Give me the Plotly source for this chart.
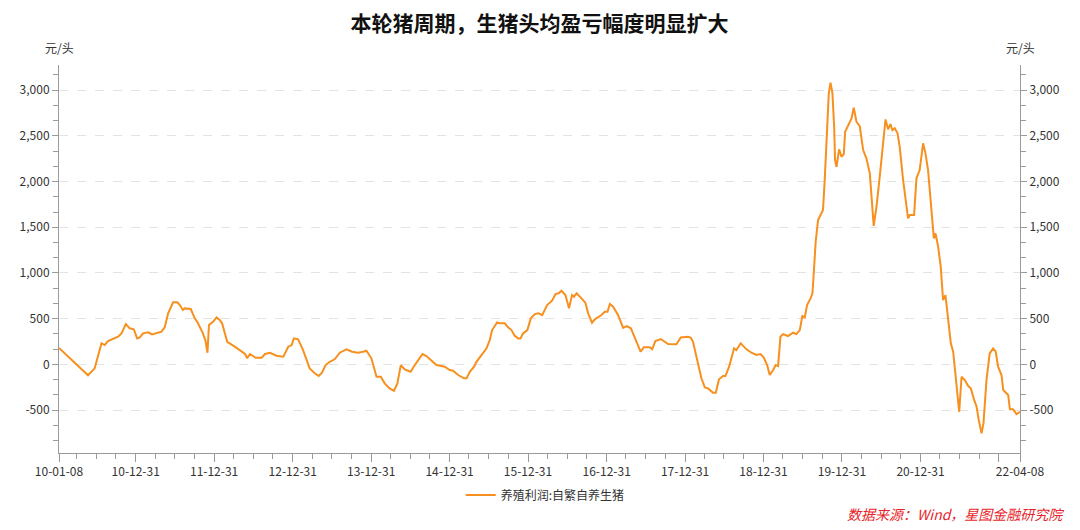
import plotly.graph_objects as go

# ---- data ----
dates = [
    "2010-01-08", "2010-05-23", "2010-06-23", "2010-07-25", "2010-08-09", "2010-08-24", "2010-10-10", "2010-10-26",
    "2010-11-15", "2010-12-03", "2010-12-22",
    "2011-01-07", "2011-01-19", "2011-02-03", "2011-02-27", "2011-03-17", "2011-04-30", "2011-05-15", "2011-05-31",
    "2011-06-23", "2011-07-13", "2011-07-24", "2011-08-08", "2011-08-16", "2011-09-13", "2011-10-02", "2011-10-17",
    "2011-11-09", "2011-11-21", "2011-11-30", "2011-12-07", "2011-12-26",
    "2012-01-11", "2012-01-26", "2012-02-06", "2012-03-01", "2012-04-05", "2012-05-07", "2012-05-23", "2012-06-02",
    "2012-06-15", "2012-07-12", "2012-08-08", "2012-08-24", "2012-09-16", "2012-10-17", "2012-11-17", "2012-12-10",
    "2012-12-26",
    "2013-01-05", "2013-01-25", "2013-02-17", "2013-03-20", "2013-04-12", "2013-05-01", "2013-05-16", "2013-06-02",
    "2013-06-21", "2013-07-14", "2013-08-07", "2013-09-07", "2013-10-03", "2013-10-31", "2013-11-23", "2013-12-09",
    "2014-01-01", "2014-01-25", "2014-02-14", "2014-03-04", "2014-03-27", "2014-04-16", "2014-05-02", "2014-05-18",
    "2014-06-05", "2014-07-03", "2014-07-22", "2014-08-06", "2014-08-27", "2014-09-14", "2014-10-07", "2014-10-31",
    "2014-12-08",
    "2015-01-01", "2015-01-16", "2015-02-09", "2015-03-08", "2015-03-20", "2015-04-04", "2015-04-24", "2015-05-05",
    "2015-05-28", "2015-06-21", "2015-07-06", "2015-07-17", "2015-08-09", "2015-08-21", "2015-09-14", "2015-09-29",
    "2015-10-15", "2015-10-30", "2015-11-15", "2015-11-26", "2015-12-08", "2015-12-28",
    "2016-01-13", "2016-02-01", "2016-02-19", "2016-03-06", "2016-03-29", "2016-04-21", "2016-05-07", "2016-05-22",
    "2016-06-04", "2016-06-22", "2016-07-09", "2016-07-23", "2016-08-01", "2016-08-13", "2016-09-05", "2016-09-23",
    "2016-10-06", "2016-10-24", "2016-11-06", "2016-12-07", "2016-12-22",
    "2017-01-04", "2017-01-15", "2017-01-30", "2017-02-22", "2017-03-18", "2017-04-03", "2017-04-23", "2017-05-19",
    "2017-06-07", "2017-06-22", "2017-07-20", "2017-07-31", "2017-08-15", "2017-09-09", "2017-10-13", "2017-11-21",
    "2017-12-11",
    "2018-01-14", "2018-01-27", "2018-02-06", "2018-02-22", "2018-03-17", "2018-04-02", "2018-04-17", "2018-05-10",
    "2018-05-23", "2018-06-07", "2018-06-26", "2018-07-07", "2018-07-24", "2018-08-16", "2018-08-27", "2018-09-16",
    "2018-10-13", "2018-11-05", "2018-11-28", "2018-12-17",
    "2019-01-01", "2019-01-17", "2019-01-29", "2019-02-14", "2019-02-26", "2019-03-09", "2019-03-20", "2019-04-01",
    "2019-04-24", "2019-05-18", "2019-06-02", "2019-06-18", "2019-06-30", "2019-07-11", "2019-07-22", "2019-08-07",
    "2019-08-16", "2019-08-22", "2019-08-31", "2019-09-11", "2019-09-22", "2019-10-04", "2019-10-12", "2019-10-23",
    "2019-10-31", "2019-11-08", "2019-11-17", "2019-11-25", "2019-11-29", "2019-12-06", "2019-12-18", "2019-12-29",
    "2020-01-09", "2020-01-15", "2020-02-02", "2020-02-14", "2020-02-24", "2020-03-08", "2020-03-23", "2020-04-08",
    "2020-04-23", "2020-05-09", "2020-05-27", "2020-06-09", "2020-06-24", "2020-07-10", "2020-07-21", "2020-08-02",
    "2020-08-13", "2020-08-22", "2020-09-02", "2020-09-15", "2020-09-25", "2020-10-11", "2020-11-03", "2020-11-11",
    "2020-12-01", "2020-12-12", "2020-12-27",
    "2021-01-12", "2021-01-23", "2021-02-04", "2021-02-20", "2021-03-03", "2021-03-11", "2021-03-23", "2021-04-04",
    "2021-04-15", "2021-04-26", "2021-05-08", "2021-05-21", "2021-06-01", "2021-06-12", "2021-06-29", "2021-07-10",
    "2021-07-25", "2021-08-10", "2021-08-22", "2021-09-07", "2021-09-18", "2021-09-28", "2021-10-11", "2021-10-20",
    "2021-11-03", "2021-11-18", "2021-12-04", "2021-12-16", "2021-12-27",
    "2022-01-12", "2022-01-20", "2022-02-12", "2022-02-20", "2022-03-07", "2022-03-23", "2022-04-08",
]
profit = [
    180, -120, -44, 230, 211, 255, 302, 339,
    441, 394, 383,
    284, 295, 339, 350, 328, 357, 405, 558,
    678, 678, 649, 594, 612, 605, 503, 449,
    339, 258, 127, 430, 466,
    514, 485, 449, 247, 193, 138, 113, 66,
    113, 72, 72, 113, 127, 94, 83, 193,
    211,
    284, 273, 156, -44, -98, -128, -92, -8,
    28, 55, 127, 164, 138, 127, 138, 149,
    66, -136, -136, -208, -263, -289, -208, -8,
    -55, -81, -8, 47, 113, 91, 47, -8,
    -26,
    -62, -70, -117, -153, -153, -81, -26, 28,
    102, 175, 266, 375, 459, 449, 449, 405,
    375, 313, 284, 284, 339, 375,
    503, 550, 558, 539, 649, 696, 769, 777,
    805, 758, 613, 758, 740, 777, 722, 674,
    558, 455, 492, 539, 575,
    575, 660, 630, 539, 400, 419, 394, 247,
    138, 186, 186, 167, 255, 277, 222, 219,
    295,
    302, 291, 247, 83, -153, -252, -263, -311,
    -311, -164, -128, -128, -26, 175, 156, 230,
    164, 127, 102, 113,
    77, -8, -117, -62, -8, -19, 302, 331,
    310, 346, 331, 375, 528, 514, 649, 722,
    777, 996, 1341, 1579, 1641, 1688, 2016, 2600,
    2965, 3081, 2965, 2600, 2235, 2162, 2352, 2271,
    2301, 2545, 2637, 2691, 2807, 2654, 2607, 2344,
    2254, 2090, 1513, 1724, 2052, 2454, 2680, 2571,
    2629, 2563, 2582, 2527, 2381, 2016, 1597, 1633,
    1633, 2035, 2126,
    2418, 2308, 2126, 1688, 1378, 1433, 1287, 1068,
    703, 758, 521, 230, 138, -98, -519, -136,
    -172, -237, -263, -391, -464, -609, -755, -646,
    -172, 120, 175, 138, -26,
    -117, -281, -336, -492, -492, -544, -520,
]

series_name = "养殖利润:自繁自养生猪"
title_text = "本轮猪周期，生猪头均盈亏幅度明显扩大"
unit_text = "元/头"
source_text = "数据来源：Wind，星图金融研究院"

x_tick_vals = ["2010-01-08", "2010-12-31", "2011-12-31", "2012-12-31", "2013-12-31", "2014-12-31",
               "2015-12-31", "2016-12-31", "2017-12-31", "2018-12-31", "2019-12-31", "2020-12-31",
               "2021-12-31", "2022-04-08"]
x_tick_text = ["10-01-08", "10-12-31", "11-12-31", "12-12-31", "13-12-31", "14-12-31",
               "15-12-31", "16-12-31", "17-12-31", "18-12-31", "19-12-31", "20-12-31",
               "", "22-04-08"]
x_minor_vals = [f"{y}-{md}" for y in range(2010, 2022) for md in ("03-31", "06-30", "09-30")]

y_tick_vals = [-500, 0, 500, 1000, 1500, 2000, 2500, 3000]
y_tick_text = ["-500", "0", "500", "1,000", "1,500", "2,000", "2,500", "3,000"]
y_range = [-970, 3275]

FONT = "Noto Sans CJK SC"
AXIS_COLOR = "#9a9a9a"
LINE_COLOR = "#F7901E"

# the page body adds an 8px offset; the figure is sized/margined to compensate
W, H = 1072, 522

fig = go.Figure()
fig.add_trace(go.Scatter(
    x=dates, y=profit, mode="lines", name=series_name,
    line=dict(color=LINE_COLOR, width=2),
))
fig.add_trace(go.Scatter(
    x=[dates[0]], y=[profit[0]], mode="lines", yaxis="y2",
    showlegend=False, hoverinfo="skip", line=dict(color="rgba(0,0,0,0)", width=0),
))

yaxis_common = dict(
    range=y_range, tickmode="array", tickvals=y_tick_vals, ticktext=y_tick_text,
    showline=True, linecolor=AXIS_COLOR, linewidth=1,
    ticks="outside", ticklen=6, tickcolor=AXIS_COLOR,
    tickfont=dict(family=FONT, size=12, color="#333333"),
    zeroline=False,
    minor=dict(dtick=500 / 3, tick0=0, ticks="outside", ticklen=5, tickcolor=AXIS_COLOR, showgrid=False),
)

fig.update_layout(
    width=W, height=H,
    paper_bgcolor="white", plot_bgcolor="white",
    margin=dict(l=51, r=60, t=57, b=77, autoexpand=False),
    font=dict(family=FONT, color="#333333"),
    title=dict(text=f"<b>{title_text}</b>", x=0.5, xref="paper", xanchor="center",
               y=1 - 16 / H, yref="container", yanchor="middle",
               font=dict(family=FONT, size=21, color="#111111")),
    xaxis=dict(
        type="date", range=["2010-01-08", "2022-04-08"],
        tickmode="array", tickvals=x_tick_vals, ticktext=x_tick_text,
        showline=True, linecolor=AXIS_COLOR, linewidth=1,
        ticks="outside", ticklen=8, tickcolor=AXIS_COLOR,
        tickfont=dict(family=FONT, size=12, color="#333333"),
        showgrid=False, zeroline=False,
        minor=dict(tickmode="array", tickvals=x_minor_vals, ticks="outside", ticklen=5,
                   tickcolor=AXIS_COLOR, showgrid=False),
    ),
    yaxis=dict(**yaxis_common, side="left", showgrid=True, gridcolor="#e3e3e3", griddash="dash", gridwidth=1),
    yaxis2=dict(**yaxis_common, side="right", overlaying="y", showgrid=False),
    legend=dict(orientation="h", x=0.506, xanchor="center", y=-0.108, yanchor="middle",
                font=dict(family=FONT, size=12, color="#333333")),
    showlegend=True,
)

fig.add_annotation(text=unit_text, xref="paper", yref="paper", x=0, y=(453 - 48) / 388,
                   xanchor="center", yanchor="middle", showarrow=False,
                   font=dict(family=FONT, size=12, color="#333333"))
fig.add_annotation(text=unit_text, xref="paper", yref="paper", x=1, y=(453 - 48) / 388,
                   xanchor="center", yanchor="middle", showarrow=False,
                   font=dict(family=FONT, size=12, color="#333333"))
fig.add_annotation(text=f"<i>{source_text}</i>", xref="paper", yref="paper",
                   x=(1066 - 59) / 961, y=(453 - 514) / 388, xanchor="right", yanchor="middle",
                   showarrow=False, font=dict(family=FONT, size=14, color="#e8242a"))

fig.write_html("out.html")
